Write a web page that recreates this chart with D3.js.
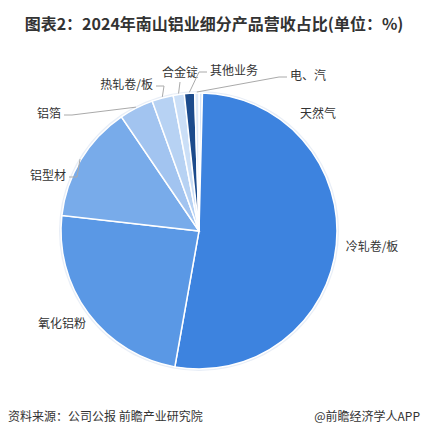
<!DOCTYPE html><html><head><meta charset="utf-8"><script src="https://cdn.jsdelivr.net/npm/d3@7"></script>
<style>body{margin:0;background:#fff;font-family:"Noto Sans CJK SC","Noto Sans",sans-serif}</style></head><body><svg width="428" height="438"></svg>
<script>
const categories=["天然气","冷轧卷/板","氧化铝粉","铝型材","铝箔","热轧卷/板","合金锭","其他业务","电、汽"];
const values=[0.4,52.4,24.0,13.7,4.0,2.5,1.3,1.2,0.5];
const colors=["#d7e6fa","#3d83df","#5a98e5","#78abea","#a2c4f0","#b7d2f3","#cbdff7","#1c4b8c","#dde9f9"];
const labelPos={"天然气":[318,115,null],"冷轧卷/板":[372,248,null],"氧化铝粉":[62,325,null],"铝型材":[66,177,"e"],"铝箔":[61,115,"e"],"热轧卷/板":[153,86,"e"],"合金锭":[180,74,"m"],"其他业务":[210,72,"s"],"电、汽":[290,77,"s"]};
const svg=d3.select("svg"),cx=199,cy=231,r=138;
svg.append("text").attr("x",214).attr("y",30).attr("text-anchor","middle").attr("font-size",16).attr("font-weight","bold").attr("fill","#333").text("图表2：2024年南山铝业细分产品营收占比(单位：%)");
const arcs=d3.pie().sort(null).value(d=>d)(values);
const g=svg.append("g").attr("transform",`translate(${cx},${cy})`);
g.append("circle").attr("r",r+2).attr("fill","#e8eef7");
g.selectAll("path").data(arcs).join("path").attr("d",d3.arc().innerRadius(0).outerRadius(r)).attr("fill",(d,i)=>colors[i]).attr("stroke","#fff").attr("stroke-width",1.5);
arcs.forEach((a,i)=>{const c=categories[i],p=labelPos[c];svg.append("text").attr("x",p[0]).attr("y",p[1]).attr("font-size",12).attr("fill","#333").attr("text-anchor",p[2]==="e"?"end":p[2]==="s"?"start":"middle").attr("dominant-baseline","middle").text(c);
 if(p[2]){const m=(a.startAngle+a.endAngle)/2;const ex=cx+Math.sin(m)*(r+1),ey=cy-Math.cos(m)*(r+1);
 let lx=p[2]==="e"?p[0]+3:p[2]==="s"?p[0]-3:p[0],ly=p[2]==="m"?p[1]+8:p[1];
 let mid=p[2]==="s"?[lx-8,ly]:[lx+(p[2]==="e"?8:0),ly];
 svg.append("polyline").attr("points",[[lx,ly],mid,[ex,ey]].join(" ")).attr("fill","none").attr("stroke","#aaa").attr("stroke-width",1);}});
svg.append("text").attr("x",8).attr("y",421).attr("font-size",12).attr("fill","#333").text("资料来源：公司公报 前瞻产业研究院");
svg.append("text").attr("x",420).attr("y",421).attr("text-anchor","end").attr("font-size",12).attr("fill","#333").text("@前瞻经济学人APP");
</script></body></html>
